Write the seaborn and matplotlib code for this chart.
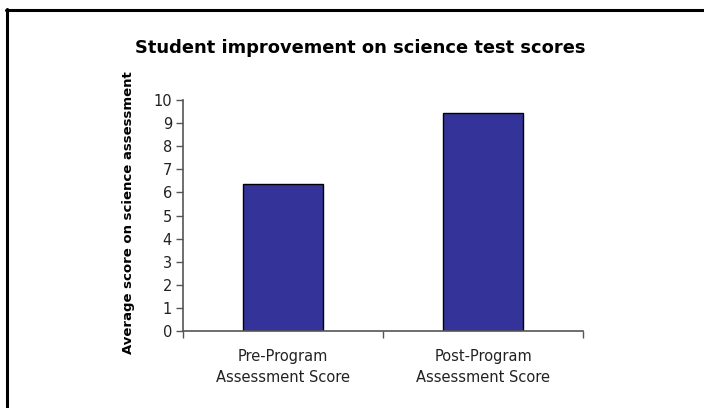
import matplotlib
matplotlib.use("Agg")
import matplotlib.pyplot as plt
import seaborn as sns
import pandas as pd
from matplotlib.lines import Line2D

categories = ["Pre-Program\nAssessment Score", "Post-Program\nAssessment Score"]
scores = [6.35, 9.45]
y_ticks = list(range(0, 11))

df = pd.DataFrame({"stage": categories, "score": scores})

sns.set_theme(style="white")
plt.rcParams["font.family"] = ["DejaVu Sans"]

W, H = 704, 408
fig = plt.figure(figsize=(W / 100, H / 100), dpi=100)
# axes box in pixels: x 183..583, y(0)=331, y(10)=100
ax = fig.add_axes([183 / W, (H - 331) / H, 400 / W, 231 / H])

sns.barplot(data=df, x="stage", y="score", color="#333399", width=0.4,
            edgecolor="black", linewidth=1.0, saturation=1, ax=ax)

ax.set_ylim(0, 10)
ax.set_xlim(-0.5, 1.5)
ax.set_yticks(y_ticks)
ax.set_yticklabels([str(t) for t in y_ticks], fontsize=10.5, color="#222222")
ax.tick_params(axis="y", direction="out", length=5, width=1, color="#555555", pad=3, left=True)
ax.tick_params(axis="x", which="major", length=0, pad=13, labelsize=10.5, labelcolor="#222222")
ax.set_xticks([-0.5, 0.5, 1.5], minor=True)
ax.tick_params(axis="x", which="minor", direction="out", length=5, width=1, color="#555555", bottom=True)
for lbl in ax.get_xticklabels():
    lbl.set_linespacing(1.5)

for s in ["top", "right"]:
    ax.spines[s].set_visible(False)
for s in ["left", "bottom"]:
    ax.spines[s].set_color("#555555")
    ax.spines[s].set_linewidth(1.2)

ax.set_xlabel("")
ax.set_ylabel("")
fig.text(128.5 / W, 1 - 212.5 / H, "Average score on science assessment", rotation=90,
         ha="center", va="center", fontsize=9.5, fontweight="bold", color="black")
fig.text(360.5 / W, 1 - 53 / H, "Student improvement on science test scores", ha="center",
         va="baseline", fontsize=12.9, fontweight="bold", color="black")

# slide frame: only top and left edges fall inside the picture
fig.lines.append(Line2D([6 / W, 1], [1 - 10 / H, 1 - 10 / H], transform=fig.transFigure,
                        color="black", linewidth=2.2))
fig.lines.append(Line2D([7 / W, 7 / W], [0, 1 - 9 / H], transform=fig.transFigure,
                        color="black", linewidth=2.2))

fig.savefig("out.png", dpi=100)
